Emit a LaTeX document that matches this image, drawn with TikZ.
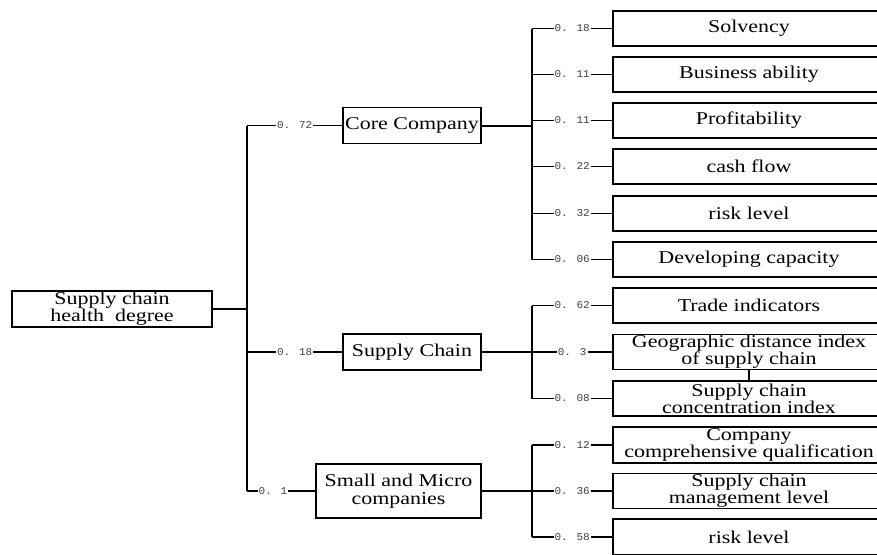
\documentclass[tikz,border=0pt]{standalone}
\usepackage{fontspec}
\setmainfont{Liberation Serif}[FakeStretch=1.22]
\newfontfamily\weightfont{Liberation Mono}[FakeStretch=1.05]

\begin{document}
\begin{tikzpicture}[x=1pt, y=-1pt, line width=1.2pt,
  box/.style={draw, line width=1.3pt, align=center, inner sep=0pt,
    font=\fontsize{18}{17}\selectfont},
  leaf/.style={box, minimum width=272, minimum height=35},
  main/.style={line width=2pt},
  weight/.style={fill=white, inner sep=1pt, text=black!75,
    font=\weightfont\fontsize{10.5}{10.5}\selectfont}]

  % Frame
  \useasboundingbox (0,0) rectangle (877,554);
  \clip (0,0) rectangle (877,554);

  % Root and first level
  \node[box, minimum width=200, minimum height=36] (root) at (112,309) {Supply chain\\health~ degree};
  \node[box, minimum width=138, minimum height=36] (core) at (412,125.5) {Core Company};
  \node[box, minimum width=138, minimum height=36] (chain) at (412,352) {Supply Chain};
  \node[box, minimum width=165, minimum height=54, font=\fontsize{18}{18.5}\selectfont] (small) at (398.5,491) {Small and Micro\\companies};

  % Second level: core company
  \node[leaf] (solv) at (749,28.5) {Solvency};
  \node[leaf] (busi) at (749,74.5) {Business ability};
  \node[leaf] (prof) at (749,120.5) {Profitability};
  \node[leaf] (cash) at (749,166.5) {cash flow};
  \node[leaf] (risk) at (749,213.5) {risk level};
  \node[leaf] (devel) at (749,259.5) {Developing capacity};

  % Second level: supply chain
  \node[leaf] (trade) at (749,305.5) {Trade indicators};
  \node[leaf] (geo) at (749,352) {Geographic distance index\\of supply chain};
  \node[leaf] (conc) at (749,398.5) {Supply chain\\concentration index};

  % Second level: small and micro companies
  \node[leaf, minimum height=36] (qual) at (749,445) {Company\\comprehensive qualification};
  \node[leaf] (manage) at (749,491) {Supply chain\\management level};
  \node[leaf, minimum height=36] (srisk) at (749,537) {risk level};

  % Split lines
  \coordinate (trunk) at (247,0);
  \coordinate (split) at (532,0);

  % First level connectors
  \draw[main] (root) -- (trunk |- root);
  \draw (trunk |- core) -- (trunk |- small);
  \draw (trunk |- core) -- node[weight] {0. 72} (core);
  \draw (trunk |- chain) -- node[weight] {0. 18} (chain);
  \draw (trunk |- small) -- node[weight, pos=0.38] {0. 1} (small);

  % Second level connectors
  \draw[main] (core) -- (split |- core);
  \draw (split |- solv) -- (split |- devel);
  \foreach \leaf/\w in {solv/0. 18, busi/0. 11, prof/0. 11, cash/0. 22, risk/0. 32, devel/0. 06}
    \draw (split |- \leaf) -- node[weight] {\w} (\leaf);

  \draw[main] (chain) -- (split |- chain);
  \draw (split |- trade) -- (split |- conc);
  \foreach \leaf/\w in {trade/0. 62, geo/0. 3, conc/0. 08}
    \draw (split |- \leaf) -- node[weight] {\w} (\leaf);
  \draw (geo) -- (conc);

  \draw[main] (small) -- (split |- small);
  \draw (split |- qual) -- (split |- srisk);
  \foreach \leaf/\w in {qual/0. 12, manage/0. 36, srisk/0. 58}
    \draw (split |- \leaf) -- node[weight] {\w} (\leaf);
\end{tikzpicture}
\end{document}
